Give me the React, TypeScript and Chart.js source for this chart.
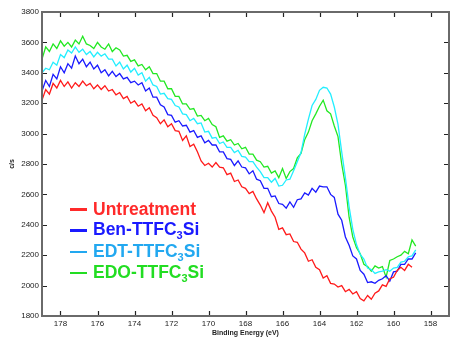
import React, { useEffect, useRef } from "react";
import { Chart, registerables } from "chart.js";

Chart.register(...registerables);

// Binding energy grid (eV), 179.0 down to 158.8 in 0.2 eV steps
const E_START = 179.0;
const E_STEP = 0.2;
const N_POINTS = 102;

const UNTREATMENT = [
  3220, 3290, 3260, 3330, 3300, 3350, 3310, 3340, 3300, 3335,
  3310, 3345, 3315, 3330, 3295, 3320, 3290, 3315, 3280, 3290,
  3255, 3270, 3230, 3245, 3200, 3215, 3180, 3195, 3150, 3170,
  3120, 3105, 3065, 3090, 3045, 3065, 3020, 3015, 2955, 2985,
  2915, 2930, 2880, 2820, 2790, 2805, 2780, 2810, 2780, 2775,
  2730, 2740, 2685, 2695, 2650, 2640, 2605, 2620, 2570, 2530,
  2480, 2545, 2490, 2450, 2370, 2380, 2335, 2340, 2290, 2285,
  2240, 2215, 2160, 2170, 2120, 2105, 2050, 2065, 2015, 2010,
  1990, 2000, 1960, 1975, 1945, 1960, 1915, 1900, 1935, 1910,
  1950, 1965, 2005, 1995, 2045, 2055, 2100, 2120, 2100, 2140,
  2120, null,
];

const BEN = [
  3280, 3350, 3310, 3390, 3360, 3440, 3400, 3460, 3430, 3510,
  3460, 3490, 3440, 3470, 3425, 3450, 3400, 3420, 3380, 3410,
  3375, 3395, 3360, 3370, 3335, 3345, 3320, 3335, 3280, 3300,
  3240, 3240, 3190, 3175, 3125, 3120, 3075, 3085, 3050, 3055,
  3010, 3020, 2975, 2985, 2940, 2955, 2925, 2925, 2880, 2880,
  2835, 2830, 2790, 2820, 2780, 2775, 2735, 2755, 2700, 2690,
  2640, 2640, 2585, 2590, 2540, 2535, 2510, 2550, 2515, 2565,
  2570, 2610, 2595, 2640, 2615, 2655, 2650, 2650, 2600, 2580,
  2470, 2430, 2320, 2265, 2195, 2175, 2100, 2075, 2020, 2025,
  2015, 2035, 2045, 2065, 2030, 2090, 2095, 2140, 2140, 2175,
  2175, 2215,
];

const EDT = [
  3400, 3430, 3420, 3470, 3450, 3520, 3500, 3550, 3530, 3570,
  3535, 3555, 3520, 3540, 3505, 3535, 3510, 3525, 3490, 3490,
  3445, 3470, 3425, 3450, 3405, 3430, 3385, 3400, 3345, 3370,
  3320, 3310, 3260, 3265, 3230, 3225, 3185, 3175, 3130, 3125,
  3085, 3100, 3065, 3070, 3010, 3015, 2970, 2975, 2935, 2945,
  2910, 2910, 2875, 2890, 2850, 2845, 2815, 2815, 2780, 2750,
  2710, 2710, 2680, 2705, 2655, 2660, 2695, 2700, 2755, 2815,
  2875, 2995, 3095, 3185, 3225, 3285, 3305, 3300, 3260, 3175,
  3060, 2880, 2710, 2520, 2370, 2270, 2205, 2175, 2115, 2105,
  2080, 2090, 2095, 2105, 2095, 2115, 2120, 2155, 2160, 2190,
  2195, 2235,
];

const EDO = [
  3490, 3570, 3540, 3590, 3560, 3610, 3575, 3600, 3570, 3615,
  3590, 3640, 3590, 3580, 3560, 3600, 3570, 3555, 3590, 3540,
  3565, 3550, 3510, 3515, 3475, 3485, 3445, 3455, 3420, 3440,
  3395, 3395, 3345, 3345, 3295, 3295, 3245, 3245, 3195, 3195,
  3160, 3165, 3115, 3120, 3085, 3100, 3060, 3045, 2975, 2985,
  2950, 2960, 2925, 2935, 2900, 2910, 2865, 2865, 2825, 2815,
  2780, 2785, 2740, 2755, 2710, 2770, 2705, 2750, 2770, 2840,
  2870, 2960, 3010, 3085, 3130, 3180, 3220, 3150, 3130, 3050,
  2980, 2800, 2660, 2450, 2320, 2250, 2210, 2140, 2125, 2095,
  2130, 2115, 2125, 2055, 2165, 2175, 2190, 2200, 2225, 2210,
  2300, 2260,
];

const X_TICKS = [178, 176, 174, 172, 170, 168, 166, 164, 162, 160, 158];
const Y_TICKS = [1800, 2000, 2200, 2400, 2600, 2800, 3000, 3200, 3400, 3600, 3800];

const SERIES_NAMES = ["Untreatment", "Ben-TTFC3Si", "EDT-TTFC3Si", "EDO-TTFC3Si"];
const LINE_COLORS = ["#ff1a1a", "#1a1aff", "#22eeff", "#22e822"];
const LEGEND_COLORS = ["#ff2a2a", "#1a1aff", "#22a8f0", "#22dd22"];

const FONT = '"Liberation Sans", Arial, sans-serif';

const framePlugin = {
  id: "frame",
  afterDatasetsDraw(chart: any) {
    const { ctx, chartArea } = chart;
    const { left, right, top, bottom } = chartArea;
    const xs = chart.scales.x;
    const ys = chart.scales.y;
    ctx.save();
    ctx.strokeStyle = "#222";
    ctx.lineWidth = 1.2;
    ctx.beginPath();
    for (const v of X_TICKS) {
      const px = Math.round(xs.getPixelForValue(v)) + 0.5;
      ctx.moveTo(px, bottom);
      ctx.lineTo(px, bottom - 5);
      ctx.moveTo(px, top);
      ctx.lineTo(px, top + 5);
    }
    for (const v of Y_TICKS) {
      const py = Math.round(ys.getPixelForValue(v)) + 0.5;
      ctx.moveTo(left, py);
      ctx.lineTo(left + 5, py);
      ctx.moveTo(right, py);
      ctx.lineTo(right - 5, py);
    }
    ctx.stroke();
    ctx.strokeStyle = "#6a6a6a";
    ctx.lineWidth = 2;
    ctx.strokeRect(left, top, right - left, bottom - top);
    // axis titles
    ctx.fillStyle = "#222";
    ctx.font = `bold 7px ${FONT}`;
    ctx.textAlign = "center";
    ctx.textBaseline = "middle";
    ctx.fillText("Binding Energy (eV)", (left + right) / 2, 333);
    ctx.translate(12, (top + bottom) / 2);
    ctx.rotate(-Math.PI / 2);
    ctx.fillText("c/s", 0, 0);
    ctx.restore();
  },
};

export default function App() {
  const canvasRef = useRef<HTMLCanvasElement | null>(null);

  useEffect(() => {
    const energies: number[] = [];
    for (let i = 0; i < N_POINTS; i++) energies.push(+(E_START - E_STEP * i).toFixed(1));
    const all = [UNTREATMENT, BEN, EDT, EDO];
    const datasets = all.map((vals, k) => ({
      label: SERIES_NAMES[k],
      data: energies.map((x, i) => ({ x, y: vals[i] })),
      borderColor: LINE_COLORS[k],
      backgroundColor: LINE_COLORS[k],
      borderWidth: 1.3,
      pointRadius: 0,
      tension: 0,
      spanGaps: false,
    }));
    const chart = new Chart(canvasRef.current as HTMLCanvasElement, {
      type: "line",
      data: { datasets } as any,
      options: {
        animation: false,
        responsive: false,
        devicePixelRatio: 1,
        layout: { padding: { top: 12, right: 1, left: 0, bottom: 0 } },
        plugins: { legend: { display: false }, tooltip: { enabled: false } },
        scales: {
          x: {
            type: "linear",
            reverse: true,
            min: 157,
            max: 179,
            grid: { display: false, drawTicks: false },
            border: { display: false },
            afterBuildTicks: (s: any) => {
              s.ticks = X_TICKS.map((v) => ({ value: v }));
            },
            afterFit: (s: any) => {
              s.height = 29;
            },
            ticks: {
              padding: 3,
              maxRotation: 0,
              autoSkip: false,
              color: "#222",
              font: { family: FONT, size: 8 },
              callback: (v: any) => String(v),
            },
          },
          y: {
            type: "linear",
            min: 1800,
            max: 3800,
            grid: { display: false, drawTicks: false },
            border: { display: false },
            afterBuildTicks: (s: any) => {
              s.ticks = Y_TICKS.map((v) => ({ value: v }));
            },
            afterFit: (s: any) => {
              s.width = 42;
            },
            ticks: {
              padding: 3,
              autoSkip: false,
              color: "#222",
              font: { family: FONT, size: 8 },
              callback: (v: any) => String(v),
            },
          },
        },
      } as any,
      plugins: [framePlugin],
    });
    return () => chart.destroy();
  }, []);

  const rowTops = [199, 220, 241.5, 262.5];

  const renderName = (name: string) => {
    const m = name.match(/^(.*C)3(Si)$/);
    if (!m) return name;
    return (
      <>
        {m[1]}
        <span style={{ fontSize: "11px", position: "relative", top: "4px" }}>3</span>
        {m[2]}
      </>
    );
  };

  return (
    <div style={{ position: "fixed", left: 0, top: 0, width: 450, height: 345, background: "#fff" }}>
      <canvas ref={canvasRef} width={450} height={345} style={{ display: "block" }} />
      {SERIES_NAMES.map((name, k) => (
        <div
          key={name}
          style={{
            position: "absolute",
            left: 70,
            top: rowTops[k],
            height: 21,
            display: "flex",
            alignItems: "center",
            fontFamily: FONT,
            fontWeight: "bold",
            fontSize: "17.5px",
            lineHeight: "21px",
            color: LEGEND_COLORS[k],
            whiteSpace: "nowrap",
          }}
        >
          <div style={{ width: 17, height: 2.5, background: LEGEND_COLORS[k], marginRight: 6 }} />
          <span>{renderName(name)}</span>
        </div>
      ))}
    </div>
  );
}
